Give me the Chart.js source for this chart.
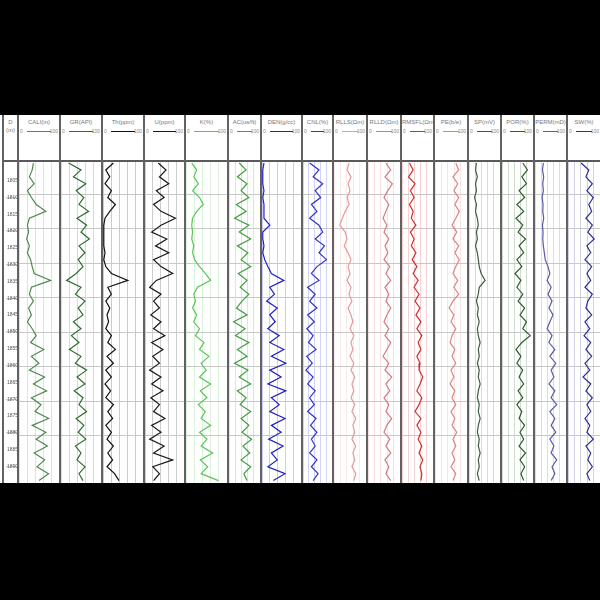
<!DOCTYPE html>
<html>
<head>
<meta charset="utf-8">
<script src="https://cdn.jsdelivr.net/npm/chart.js@4/dist/chart.umd.min.js"></script>
<style>
html,body{margin:0;padding:0;background:#000;width:600px;height:600px;overflow:hidden;font-family:"Liberation Sans",Arial,sans-serif;}
#panel{position:absolute;left:0;top:115px;width:600px;height:368px;background:#fff;}
.trk{position:absolute;top:0;height:368px;border-left:2px solid #626262;box-sizing:border-box;}
.hdr{position:absolute;left:0;right:0;top:0;height:47px;border-bottom:2px solid #5a5a5a;box-sizing:border-box;}
.hname{font-size:6px;line-height:7px;color:#777;text-align:center;margin-top:4px;white-space:nowrap;overflow:hidden;}
.hscale{position:absolute;top:13px;left:1px;right:1px;height:7px;font-size:5px;line-height:7px;color:#888;}
.hscale .lo{position:absolute;left:0;top:0;}
.hscale .hi{position:absolute;right:0;top:0;}
.hscale .ln{position:absolute;left:7px;right:7px;top:3px;height:1px;}
.plot{position:absolute;left:0;right:0;top:47px;height:321px;}
</style>
</head>
<body>
<div id="panel"></div>
<script>
// depth samples (m)
const DEPTH = [1801,1803,1805,1807,1809,1811,1813,1815,1817,1819,1821,1823,1825,1827,1829,1831,1833,1835,1837,1839,
  1841,1843,1845,1847,1849,1851,1853,1855,1857,1859,1861,1863,1865,1867,1869,1871,1873,1875,1877,1879,
  1881,1883,1885,1887,1889,1891,1893];
const DEPTH_MIN = 1800.7;
const DEPTH_MAX = 1893.7;

const CURVE_NAMES = ["CALI(in)","GR(API)","Th(ppm)","U(ppm)","K(%)","AC(us/ft)","DEN(g/cc)","CNL(%)",
  "RLLS(Ωm)","RLLD(Ωm)","RMSFL(Ωm)","PE(b/e)","SP(mV)","POR(%)","PERM(mD)","SW(%)"];
const SCALE_LO = ["0","0","0","0","0","0","0","0","0","0","0","0","0","0","0","0"];
const SCALE_HI = ["100","100","100","100","100","100","100","100","100","100","100","100","100","100","100","100"];

const CALI = [36,33,26,38,21,31,43,67,26,21,24,19,26,21,29,33,38,79,31,26,36,24,31,21,33,43,29,62,31,50,26,64,36,69,31,55,40,74,33,67,43,71,38,64,45,74,50];
const GR   = [19,50,31,62,38,57,45,69,40,64,50,71,45,60,43,55,38,14,50,36,60,43,55,31,50,26,45,21,50,36,64,40,60,33,55,45,64,38,57,43,62,36,50,40,60,45,55];
const TH   = [26,7,17,5,21,12,31,17,5,2,2,2,2,5,2,7,21,62,12,21,7,17,10,14,7,21,12,31,10,26,7,21,5,19,7,26,12,24,7,21,10,26,12,24,10,29,40];
const UR   = [34,54,37,61,29,49,22,41,78,41,17,56,27,61,22,41,71,29,12,41,22,37,15,41,22,51,17,46,20,37,12,41,17,46,15,37,22,51,17,41,12,49,22,71,20,37,22];
const KP   = [14,26,19,30,16,33,42,26,16,14,16,14,19,16,21,33,47,60,28,19,23,16,26,19,33,23,44,33,56,37,49,33,60,35,51,30,47,37,60,33,51,37,65,35,53,37,79];
const AC   = [33,55,27,58,39,64,24,55,18,64,33,70,27,61,39,70,30,58,36,64,42,24,58,15,52,21,64,27,58,18,61,33,70,27,55,36,70,39,64,42,73,45,67,39,70,48,58];
const DEN  = [5,2,2,2,5,2,5,5,5,20,2,2,5,2,7,15,24,56,20,32,12,39,20,34,15,44,20,56,24,61,20,49,15,61,24,44,20,59,24,49,17,54,24,39,15,59,29];
const CNL  = [23,55,35,68,42,61,29,48,23,55,68,42,74,55,81,48,29,55,16,42,23,48,16,39,13,35,19,45,13,32,10,35,16,42,23,39,16,45,26,48,29,42,23,48,29,52,35];
const RLLS = [47,41,53,44,50,41,47,35,26,18,35,41,32,44,53,44,50,41,53,47,56,44,53,59,50,62,53,59,50,62,53,65,56,62,53,65,56,68,59,65,56,68,59,65,56,68,62];
const RLLD = [56,71,53,76,62,50,65,56,47,59,50,65,53,62,50,68,56,71,53,65,56,71,59,50,65,53,71,59,47,65,53,74,56,68,50,65,56,74,59,50,68,56,71,53,65,56,71];
const RMSFL= [24,36,21,42,27,39,24,36,30,45,27,39,30,45,33,48,36,52,39,55,42,58,45,61,48,64,52,61,48,58,55,67,58,48,64,55,42,61,48,61,52,64,55,67,58,64,61];
const PE   = [65,74,56,71,59,74,62,76,65,53,68,56,74,62,76,65,56,71,59,74,56,44,59,50,65,53,47,62,53,65,50,59,47,62,53,65,50,62,53,68,56,65,53,62,50,65,56];
const SP   = [24,21,27,21,24,18,24,21,27,30,24,27,21,27,30,33,39,52,33,30,24,30,27,33,27,30,36,30,33,27,33,30,36,30,27,33,30,36,30,27,33,30,36,30,33,27,33];
const POR  = [67,82,64,79,55,73,48,70,45,67,52,76,55,70,48,64,42,61,48,67,52,73,58,79,67,91,64,45,61,48,67,55,70,52,67,48,64,55,73,58,70,55,76,58,73,61,70];
const PERM = [27,24,28,25,27,23,26,25,28,24,26,25,27,30,33,42,48,39,52,42,55,45,58,48,39,55,45,64,48,67,52,61,45,64,52,70,48,64,52,67,48,61,52,70,55,64,52];
const SW   = [41,65,56,76,59,79,65,74,56,76,62,82,59,71,53,74,59,71,53,76,62,56,74,53,68,50,71,56,74,53,68,47,71,56,76,59,71,53,68,59,79,56,71,62,76,59,68];

const SERIES = [CALI,GR,TH,UR,KP,AC,DEN,CNL,RLLS,RLLD,RMSFL,PE,SP,POR,PERM,SW];

// layout + style
const TRACK_EDGES = [2,17,59,101,143,184,227,260,301,332,366,400,433,467,500,533,566,600];
const COLORS = ["#4f8a4f","#2f6e2f","#111111","#1a1a1a","#5cc45c","#3f9f3f","#1f1fc8","#3434c4",
  "#e59a9a","#d67a7a","#cf3030","#d98585","#3d5e3d","#2f5f2f","#5a5aaa","#2e2e99"];

function tint(hex, a){
  const n = parseInt(hex.slice(1),16);
  return `rgba(${(n>>16)&255},${(n>>8)&255},${n&255},${a})`;
}

function yScale(showLabels){
  return {
    type: "linear",
    reverse: true,
    min: DEPTH_MIN,
    max: DEPTH_MAX,
    afterBuildTicks: s => { s.ticks = s.ticks.filter(t => Math.abs(t.value % 5) < 1e-6); },
    ticks: showLabels
      ? { display: true, stepSize: 5, mirror: true, padding: 1, color: "#555",
          font: { size: 5, family: "Liberation Sans" }, callback: v => String(v) }
      : { display: false, stepSize: 5 },
    grid: {
      drawTicks: false,
      color: c => (c.tick && Math.abs(c.tick.value % 10) < 1e-6) ? "#c8c8c8" : "rgba(0,0,0,0)"
    },
    border: { display: false }
  };
}

const panel = document.getElementById("panel");

function makeTrack(i){
  const el = document.createElement("div");
  el.className = "trk";
  el.style.left = TRACK_EDGES[i] + "px";
  el.style.width = (TRACK_EDGES[i+1] - TRACK_EDGES[i]) + "px";
  panel.appendChild(el);
  return el;
}

// depth track
const dTrk = makeTrack(0);
dTrk.innerHTML = `<div class="hdr"><div class="hname">D</div><div class="hname" style="margin-top:1px">(m)</div></div>
  <div class="plot"><canvas id="depthCv"></canvas></div>`;
new Chart(document.getElementById("depthCv"), {
  type: "scatter",
  data: { datasets: [{ data: [] }] },
  options: {
    animation: false, responsive: true, maintainAspectRatio: false,
    layout: { padding: 0 },
    plugins: { legend: { display: false }, tooltip: { enabled: false } },
    scales: {
      x: { type: "linear", min: 0, max: 1, display: false },
      y: yScale(true)
    }
  }
});

// curve tracks
SERIES.forEach((vals, k) => {
  const trk = makeTrack(k + 1);
  const col = COLORS[k];
  trk.innerHTML = `<div class="hdr">
      <div class="hname">${CURVE_NAMES[k]}</div>
      <div class="hscale"><span class="lo">${SCALE_LO[k]}</span><div class="ln" style="background:${col}"></div><span class="hi">${SCALE_HI[k]}</span></div>
    </div>
    <div class="plot"><canvas></canvas></div>`;
  const cv = trk.querySelector("canvas");
  new Chart(cv, {
    type: "scatter",
    data: {
      datasets: [{
        data: DEPTH.map((d, i) => ({ x: vals[i], y: d })),
        showLine: true,
        borderColor: col,
        borderWidth: 1.2,
        pointRadius: 0,
        tension: 0
      }]
    },
    options: {
      animation: false, responsive: true, maintainAspectRatio: false,
      layout: { padding: 0 },
      plugins: { legend: { display: false }, tooltip: { enabled: false } },
      scales: {
        x: {
          type: "linear", min: 0, max: 100,
          ticks: { display: false, stepSize: 20 },
          grid: { drawTicks: false, color: tint(col, 0.22) },
          border: { display: false }
        },
        y: yScale(false)
      }
    }
  });
});
</script>
</body>
</html>
